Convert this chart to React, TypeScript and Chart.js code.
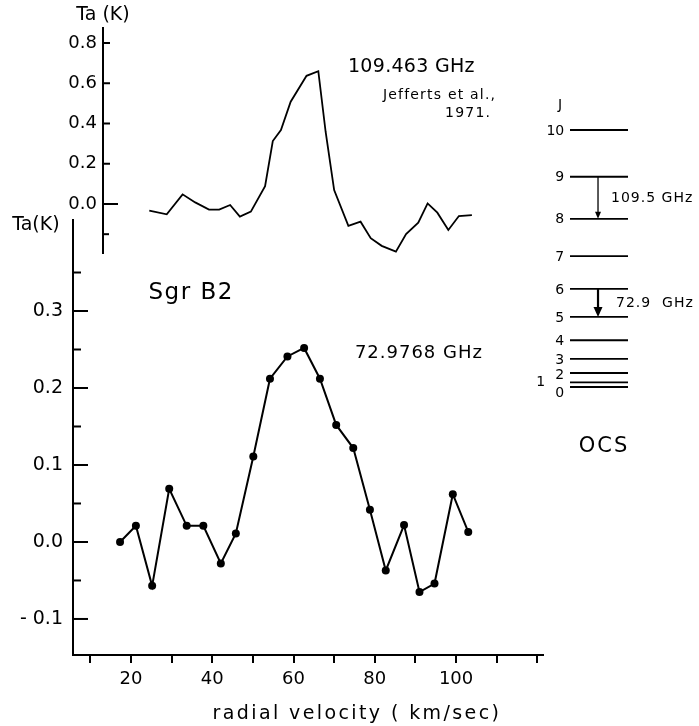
import React, { useEffect, useRef } from 'react';
import { Chart, registerables } from 'chart.js';

Chart.register(...registerables);

// ---------- data ----------
// Lower panel: OCS 72.9768 GHz, Sgr B2
const lowerVelocity = [17.3, 21.2, 25.2, 29.4, 33.7, 37.8, 42.1, 45.8, 50.1, 54.2, 58.5, 62.6, 66.5, 70.5, 74.7, 78.8, 82.7, 87.2, 91.0, 94.7, 99.2, 103.0];
const lowerTa = [0.0, 0.021, -0.057, 0.069, 0.021, 0.021, -0.028, 0.011, 0.111, 0.212, 0.241, 0.252, 0.212, 0.152, 0.122, 0.042, -0.037, 0.022, -0.065, -0.054, 0.062, 0.013];

// Upper panel: 109.463 GHz (Jefferts et al., 1971)
const upperVelocity = [24.5, 28.8, 32.7, 35.8, 39.2, 41.7, 44.4, 46.8, 49.5, 53.0, 54.9, 56.9, 59.3, 63.2, 66.1, 67.9, 70.0, 73.5, 76.5, 79.0, 81.7, 85.2, 87.7, 90.7, 93.0, 95.4, 98.1, 100.7, 103.9];
const upperTa = [-0.033, -0.051, 0.048, 0.008, -0.028, -0.028, -0.005, -0.063, -0.038, 0.089, 0.313, 0.367, 0.508, 0.637, 0.660, 0.359, 0.069, -0.109, -0.088, -0.170, -0.208, -0.237, -0.149, -0.093, 0.003, -0.043, -0.129, -0.060, -0.055];

// Axis ticks
const xTickValues = [10, 20, 30, 40, 50, 60, 70, 80, 90, 100, 110, 120];
const xTickLabels = [20, 40, 60, 80, 100];
const lowerMajorTicks = [-0.1, 0.0, 0.1, 0.2, 0.3];
const lowerMinorTicks = [-0.05, 0.05, 0.15, 0.25, 0.35];
const upperLabelTicks = [0.0, 0.2, 0.4, 0.6, 0.8];
const upperExtraTicks = [-0.15];

// OCS rotational energy levels (relative units, as spaced in the diagram)
const levelJ = [0, 1, 2, 3, 4, 5, 6, 7, 8, 9, 10];
const levelEnergy = [0, 2, 6, 12, 20, 30, 42, 56, 72, 90, 110];
const transitions = [
  { from: 9, to: 8, label: '109.5 GHz' },
  { from: 6, to: 5, label: '72.9  GHz' },
];

// ---------- helpers ----------
const FONT = 'DejaVu Sans';
const INK = '#000';

function drawText(ctx: CanvasRenderingContext2D, text: string, x: number, y: number, size: number, align: CanvasTextAlign = 'left', spacing = 0) {
  ctx.save();
  ctx.font = `${size}px "${FONT}"`;
  ctx.fillStyle = INK;
  ctx.textAlign = align;
  ctx.textBaseline = 'middle';
  (ctx as any).letterSpacing = `${spacing}px`;
  ctx.fillText(text, x, y);
  ctx.restore();
}

function seg(ctx: CanvasRenderingContext2D, x1: number, y1: number, x2: number, y2: number, w: number) {
  ctx.save();
  ctx.strokeStyle = INK;
  ctx.lineWidth = w;
  ctx.beginPath();
  ctx.moveTo(x1, y1);
  ctx.lineTo(x2, y2);
  ctx.stroke();
  ctx.restore();
}

const W = 699;
const H = 726;

// ---------- lower chart ----------
const lowerPlugin = {
  id: 'lowerDecor',
  afterDraw(chart: any) {
    const { ctx, chartArea } = chart;
    const xs = chart.scales.x;
    const ys = chart.scales.y;
    const left = chartArea.left;
    lowerMajorTicks.forEach((v) => {
      const p = ys.getPixelForValue(v);
      seg(ctx, left, p, left + 15, p, 2);
    });
    lowerMinorTicks.forEach((v) => {
      const p = ys.getPixelForValue(v);
      seg(ctx, left, p, left + 8, p, 2);
    });
    drawText(ctx, 'Ta(K)', xs.getPixelForValue(-3.4), ys.getPixelForValue(0.412), 19, 'center');
    drawText(ctx, 'Sgr B2', xs.getPixelForValue(34.8), ys.getPixelForValue(0.323), 23, 'center', 1.5);
    drawText(ctx, '72.9768 GHz', xs.getPixelForValue(75.1), ys.getPixelForValue(0.245), 18, 'left', 1);
    drawText(ctx, 'radial velocity ( km/sec)', xs.getPixelForValue(75.6), ys.getPixelForValue(-0.2234), 19, 'center', 2.4);
  },
};

function lowerConfig(): any {
  return {
    type: 'line',
    data: {
      datasets: [
        {
          data: lowerVelocity.map((v, i) => ({ x: v, y: lowerTa[i] })),
          borderColor: INK,
          borderWidth: 2,
          pointRadius: 4,
          pointBackgroundColor: INK,
          pointBorderWidth: 0,
          tension: 0,
          fill: false,
        },
      ],
    },
    options: {
      responsive: false,
      animation: false,
      events: [],
      layout: { padding: { left: 0, top: 220, right: 156, bottom: 0 } },
      plugins: { legend: { display: false }, tooltip: { enabled: false } },
      scales: {
        x: {
          type: 'linear',
          min: 5.72,
          max: 121.4,
          afterBuildTicks: (s: any) => {
            s.ticks = xTickValues.map((v) => ({ value: v }));
          },
          afterFit: (s: any) => {
            s.height = 71;
          },
          ticks: {
            autoSkip: false,
            maxRotation: 0,
            padding: 6,
            color: INK,
            font: { family: FONT, size: 18 },
            callback: (v: number) => (xTickLabels.includes(v) ? String(v) : ''),
          },
          grid: { display: true, drawOnChartArea: false, drawTicks: true, tickLength: 8, color: INK, lineWidth: 2 },
          border: { display: true, color: INK, width: 2 },
        },
        y: {
          type: 'linear',
          min: -0.1468,
          max: 0.4182,
          afterBuildTicks: (s: any) => {
            s.ticks = lowerMajorTicks.map((v) => ({ value: v }));
          },
          afterFit: (s: any) => {
            s.width = 73;
          },
          ticks: {
            padding: 10,
            color: INK,
            font: { family: FONT, size: 19 },
            callback: (v: number) => (v < 0 ? '- ' + Math.abs(v).toFixed(1) : v.toFixed(1)),
          },
          grid: { display: true, drawOnChartArea: false, drawTicks: false },
          border: { display: true, color: INK, width: 2 },
        },
      },
    },
    plugins: [lowerPlugin],
  };
}

// ---------- upper chart ----------
const upperPlugin = {
  id: 'upperDecor',
  afterDraw(chart: any) {
    const { ctx, chartArea } = chart;
    const xs = chart.scales.x;
    const ys = chart.scales.y;
    const left = chartArea.left;
    upperLabelTicks.forEach((v) => {
      const p = ys.getPixelForValue(v);
      seg(ctx, left, p, left + (v === 0 ? 15 : 7), p, 2);
    });
    upperExtraTicks.forEach((v) => {
      const p = ys.getPixelForValue(v);
      seg(ctx, left, p, left + 6, p, 2);
    });
    drawText(ctx, 'Ta (K)', xs.getPixelForValue(13.1), ys.getPixelForValue(0.939), 19, 'center');
    drawText(ctx, '109.463 GHz', xs.getPixelForValue(73.4), ys.getPixelForValue(0.681), 19, 'left', 0.3);
    drawText(ctx, 'Jefferts et al.,', xs.getPixelForValue(82.0), ys.getPixelForValue(0.542), 14, 'left', 1.2);
    drawText(ctx, '1971.', xs.getPixelForValue(97.3), ys.getPixelForValue(0.452), 14, 'left', 1.2);
  },
};

function upperConfig(): any {
  return {
    type: 'line',
    data: {
      datasets: [
        {
          data: upperVelocity.map((v, i) => ({ x: v, y: upperTa[i] })),
          borderColor: INK,
          borderWidth: 1.8,
          pointRadius: 0,
          tension: 0,
          fill: false,
        },
      ],
    },
    options: {
      responsive: false,
      animation: false,
      events: [],
      layout: { padding: { left: 0, top: 28, right: 156, bottom: 473 } },
      plugins: { legend: { display: false }, tooltip: { enabled: false } },
      scales: {
        x: { type: 'linear', min: 13.11, max: 121.4, display: false },
        y: {
          type: 'linear',
          min: -0.2435,
          max: 0.8745,
          afterBuildTicks: (s: any) => {
            s.ticks = upperLabelTicks.map((v) => ({ value: v }));
          },
          afterFit: (s: any) => {
            s.width = 103;
          },
          ticks: {
            padding: 6,
            color: INK,
            font: { family: FONT, size: 18 },
            callback: (v: number) => v.toFixed(1),
          },
          grid: { display: true, drawOnChartArea: false, drawTicks: false },
          border: { display: true, color: INK, width: 2 },
        },
      },
    },
    plugins: [upperPlugin],
  };
}

// ---------- energy level diagram ----------
const levelPlugin = {
  id: 'levelDecor',
  afterDraw(chart: any) {
    const { ctx } = chart;
    const xs = chart.scales.x;
    const ys = chart.scales.y;
    const X = (f: number) => xs.getPixelForValue(f);
    const Y = (e: number) => ys.getPixelForValue(e);
    drawText(ctx, 'J', X(-0.17), Y(120.7), 14, 'center');
    levelJ.forEach((j, i) => {
      const e = levelEnergy[i];
      if (j >= 3) drawText(ctx, String(j), X(-0.1), Y(e) + 1, 14, 'right');
      else if (j === 2) drawText(ctx, '2', X(-0.1), Y(5.1), 14, 'right');
      else if (j === 1) drawText(ctx, '1', X(-0.43), Y(2.1), 14, 'right');
      else drawText(ctx, '0', X(-0.1), Y(-2.6), 14, 'right');
    });
    transitions.forEach((t, k) => {
      const x = X(0.483);
      const y1 = Y(levelEnergy[t.from]);
      const y2 = Y(levelEnergy[t.to]);
      const thick = k === 1;
      const headH = thick ? 10 : 7;
      const headW = thick ? 4.5 : 3;
      seg(ctx, x, y1, x, y2 - headH + 1, thick ? 2.2 : 1.3);
      ctx.save();
      ctx.fillStyle = INK;
      ctx.beginPath();
      ctx.moveTo(x - headW, y2 - headH);
      ctx.lineTo(x + headW, y2 - headH);
      ctx.lineTo(x, y2);
      ctx.closePath();
      ctx.fill();
      ctx.restore();
      const mid = (levelEnergy[t.from] + levelEnergy[t.to]) / 2;
      drawText(ctx, t.label, X(thick ? 0.793 : 0.707), Y(mid + (thick ? 0 : -0.1)), 14, 'left', 1);
    });
    drawText(ctx, 'OCS', X(0.586), Y(-25.7), 21, 'center', 2);
  },
};

function levelConfig(): any {
  return {
    type: 'line',
    data: {
      datasets: levelEnergy.map((e) => ({
        data: [
          { x: 0, y: e },
          { x: 1, y: e },
        ],
        borderColor: INK,
        borderWidth: 1.8,
        pointRadius: 0,
        clip: false,
      })),
    },
    options: {
      responsive: false,
      animation: false,
      events: [],
      layout: { padding: { left: 570, top: 130, right: W - 628, bottom: H - 387 } },
      plugins: { legend: { display: false }, tooltip: { enabled: false } },
      scales: {
        x: { type: 'linear', min: 0, max: 1, display: false },
        y: { type: 'linear', min: 0, max: 110, display: false },
      },
    },
    plugins: [levelPlugin],
  };
}

export default function App() {
  const lowerRef = useRef<HTMLCanvasElement>(null);
  const upperRef = useRef<HTMLCanvasElement>(null);
  const levelRef = useRef<HTMLCanvasElement>(null);

  useEffect(() => {
    const charts: Chart[] = [];
    if (lowerRef.current) charts.push(new Chart(lowerRef.current, lowerConfig()));
    if (upperRef.current) charts.push(new Chart(upperRef.current, upperConfig()));
    if (levelRef.current) charts.push(new Chart(levelRef.current, levelConfig()));
    return () => charts.forEach((c) => c.destroy());
  }, []);

  const cstyle: React.CSSProperties = { position: 'absolute', left: 0, top: 0, width: W, height: H };
  return (
    <div style={{ position: 'absolute', left: 0, top: 0, width: W, height: H, background: '#fff', overflow: 'hidden' }}>
      <canvas ref={lowerRef} width={W} height={H} style={cstyle} />
      <canvas ref={upperRef} width={W} height={H} style={cstyle} />
      <canvas ref={levelRef} width={W} height={H} style={cstyle} />
    </div>
  );
}
